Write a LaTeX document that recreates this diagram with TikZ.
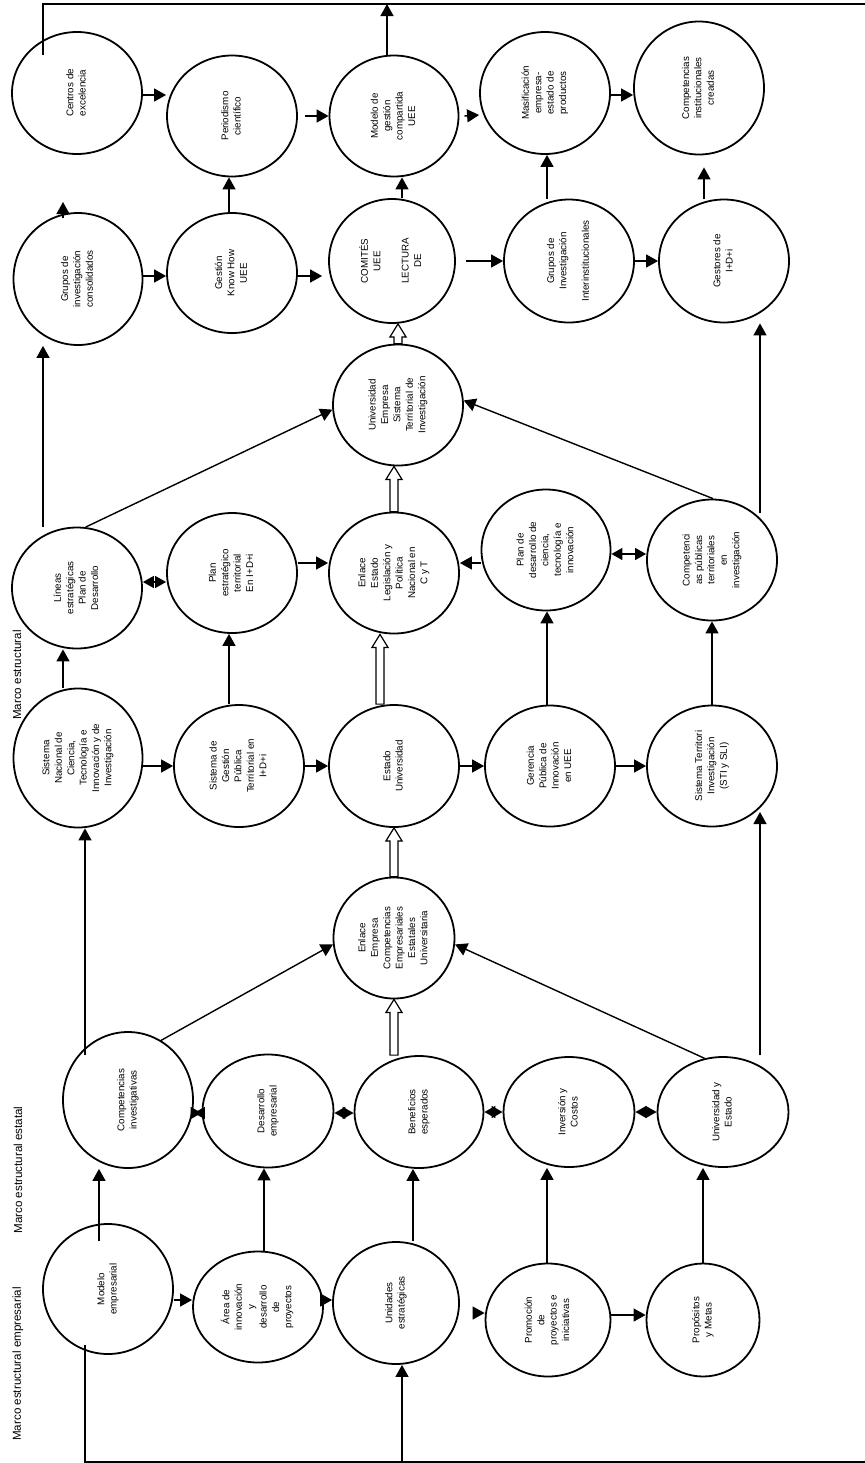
\documentclass[tikz,border=0pt]{standalone}
\usepackage{fontspec}
\setmainfont{Liberation Sans}
\usepackage{graphicx}
\usetikzlibrary{shapes.geometric,arrows.meta,calc}

\newcommand{\vtext}[1]{\rotatebox{90}{\begin{tabular}{@{}c@{}}#1\end{tabular}}}
\newcommand{\hollowup}[2]{%
  \draw[fill=white,line width=0.6pt] ([xshift=-2pt]#1) -- ([xshift=-2pt,yshift=-6.5pt]#2)
    -- ([xshift=-4pt,yshift=-6.5pt]#2) -- (#2) -- ([xshift=4pt,yshift=-6.5pt]#2)
    -- ([xshift=2pt,yshift=-6.5pt]#2) -- ([xshift=2pt]#1) -- cycle;}

\tikzset{
  oval/.style={draw, ellipse, line width=0.9pt, inner sep=0pt,
    minimum width=65pt, minimum height=61pt, font=\fontsize{4.9}{6.2}\selectfont},
  arr/.style={-{Triangle[length=6pt,width=6.5pt]}, line width=0.7pt},
  biarr/.style={{Triangle[length=5.5pt,width=6pt]}-{Triangle[length=5.5pt,width=6pt]}, line width=0.7pt},
  halfarr/.style={-{Triangle[length=5.5pt,width=6pt]}, line width=0.7pt},
  frame/.style={line width=0.7pt},
  marco/.style={rotate=90, font=\fontsize{5.8}{7}\selectfont},
}

\begin{document}
\begin{tikzpicture}[x=0.5pt, y=-0.5pt]
      \useasboundingbox (0,0) rectangle (865,1463);
      %
      \node[marco] (lblemp) at (18,1364) {Marco estructural empresarial};
      \node[marco] (lblest) at (18,1170) {Marco estructural estatal};
      \node[marco] (lblmar) at (17,675) {Marco estructural};
      %
      % bottom row
      \node[oval, minimum height=65pt] (modelo) at (108,1289) {\vtext{Modelo\\empresarial}};
      \node[oval, minimum height=55.5pt] (area) at (258,1307) {\vtext{Área de\\innovación\\y\\desarrollo\\de\\proyectos}};
      \node[oval, minimum width=63pt] (unid) at (396,1303) {\vtext{Unidades\\estratégicas}};
      \node[oval, minimum width=62.5pt, minimum height=56.5pt] (promo) at (548,1320) {\vtext{Promoción\\de\\proyectos e\\iniciativas}};
      \node[oval, minimum width=56.5pt, minimum height=56.5pt] (prop) at (703,1320) {\vtext{Propósitos\\y Metas}};
      %
      % second row
      \node[oval, minimum height=68pt] (compinv) at (128,1100) {\vtext{Competencias\\investigativas}};
      \node[oval, minimum width=65.5pt, minimum height=56.5pt] (desemp) at (268,1111) {\vtext{Desarrollo\\empresarial}};
      \node[oval, minimum width=64.5pt, minimum height=56pt] (benef) at (419,1112) {\vtext{Beneficios\\esperados}};
      \node[oval, minimum width=65.5pt, minimum height=55pt] (inver) at (569,1112) {\vtext{Inversión y\\Costos}};
      \node[oval, minimum width=65.5pt, minimum height=55pt] (uniest) at (723,1112) {\vtext{Universidad y\\Estado}};
      %
      \node[oval, minimum width=60.5pt, minimum height=60.5pt] (enlemp) at (394,938) {\vtext{Enlace\\Empresa\\Competencias\\Empresariales\\Estatales\\Universitaria}};
      %
      % third row
      \node[oval, minimum width=64.5pt, minimum height=69.5pt] (sisnac) at (78,758) {\vtext{Sistema\\Nacional de\\Ciencia,\\Tecnología e\\Innovación y de\\Investigación}};
      \node[oval] (sisges) at (239,766) {\vtext{Sistema de\\Gestión\\Pública\\Territorial en\\I+D+i}};
      \node[oval] (estado) at (394,766) {\vtext{Estado\\Universidad}};
      \node[oval, minimum height=60.5pt] (geren) at (550,766) {\vtext{Gerencia\\Pública de\\Innovación\\en UEE}};
      \node[oval, minimum height=60.5pt] (sister) at (712,766) {\vtext{Sistema Territori\\Investigación\\(STI y SLI)}};
      %
      % fourth row
      \node[oval, minimum height=60.5pt] (lineas) at (77,588) {\vtext{Líneas\\estratégicas\\Plan de\\Desarrollo}};
      \node[oval, minimum height=60pt] (planest) at (232,573) {\vtext{Plan\\estratégico\\territorial\\En I+D+i}};
      \node[oval, minimum height=60.5pt] (enlest) at (394,573) {\vtext{Enlace\\Estado\\Legislación y\\Política\\Nacional en\\C y T}};
      \node[oval, minimum width=64.5pt, minimum height=60.5pt] (plandes) at (546,550) {\vtext{Plan de\\desarrollo de\\ciencia,\\tecnología e\\innovación}};
      \node[oval, minimum height=60.5pt] (comppub) at (712,560) {\vtext{Competenci\\as públicas\\territoriales\\en\\investigación}};
      %
      \node[oval, minimum height=60.5pt] (unemp) at (398,405) {\vtext{Universidad\\Empresa\\Sistema\\Territorial de\\Investigación}};
      %
      % fifth row
      \node[oval, minimum width=64.5pt, minimum height=66pt] (grcons) at (78,279) {\vtext{Grupos de\\investigación\\consolidados}};
      \node[oval, minimum height=60pt] (gknow) at (232,273) {\vtext{Gestión\\Know How\\UEE}};
      \node[oval, minimum width=63pt, minimum height=62pt] (comites) at (392,261) {\vtext{COMITÉS\\UEE\\[8pt]LECTURA\\DE}};
      \node[oval, minimum height=61.5pt] (grinter) at (569,261) {\vtext{Grupos de\\Investigación\\[5pt]Interinstitucionales}};
      \node[oval, minimum height=61.5pt] (gestores) at (724,261) {\vtext{Gestores de\\I+D+i}};
      %
      % top row
      \node[oval] (centros) at (77,93) {\vtext{Centros de\\excelencia}};
      \node[oval, minimum height=60.5pt] (period) at (232,116) {\vtext{Periodismo\\científico}};
      \node[oval, minimum width=64.5pt, minimum height=60.5pt] (modges) at (394,116) {\vtext{Modelo de\\gestión\\compartida\\UEE}};
      \node[oval] (masif) at (545,93) {\vtext{Masificación\\empresa-\\estado de\\productos}};
      \node[oval, minimum height=66.5pt] (compinst) at (699,88) {\vtext{Competencias\\institucionales\\creadas}};
      %
      % outer lines
      \coordinate (topR) at (865,4);
      \coordinate (topM) at (387,4);
      \coordinate (botL) at (85,1462);
      \coordinate (botU) at (402,1462);
      \coordinate (botR) at (865,1462);
      \draw[frame] ([xshift=-17pt,yshift=19pt]centros.center) |- (topR);
      \draw[arr] ([xshift=-3.5pt]modges.north) -- (topM);
      \draw[frame] ([xshift=-11.5pt,yshift=-28pt]modelo.center) -- (botL) -- (botR);
      \draw[arr] (botU) -- ([xshift=3pt]unid.south);
      %
      % bottom row arrows
      \draw[arr] ([yshift=-5.5pt]modelo.east) -- ([yshift=3.5pt]area.west);
      \draw[arr] ([yshift=3.5pt]area.east) -- ([yshift=1.5pt]unid.west);
      \draw[arr] ([xshift=6.5pt,yshift=-5pt]unid.east) -- ([yshift=3.5pt]promo.west);
      \draw[arr] ([yshift=2.5pt]promo.east) -- ([yshift=2.5pt]prop.west);
      \draw[arr] ([xshift=-4.5pt,yshift=-9pt]modelo.north) -- ([xshift=-14.5pt]compinv.south);
      \draw[arr] ([xshift=3pt]area.north) -- ([xshift=-2pt]desemp.south);
      \draw[arr] ([xshift=8.5pt]unid.north) -- ([xshift=-3pt]benef.south);
      \draw[arr] ([xshift=-0.5pt]promo.north) -- ([xshift=-11pt]inver.south);
      \draw[arr] (prop.north) -- ([xshift=-10pt]uniest.south);
      %
      % second row arrows
      \coordinate (cdmid) at ($([yshift=-6.5pt]compinv.east)!0.5!([yshift=-1pt]desemp.west)$);
      \draw[halfarr] (cdmid) -- ([yshift=-6.5pt]compinv.east);
      \draw[halfarr] (cdmid) -- ([yshift=-1pt]desemp.west);
      \draw[biarr] ([yshift=-1pt]desemp.east) -- ([yshift=-0.5pt]benef.west);
      \draw[biarr] (benef.east) -- (inver.west);
      \draw[biarr] (inver.east) -- (uniest.west);
      \draw[arr] ([xshift=-21.5pt,yshift=22.5pt]compinv.center) -- ([xshift=3.5pt]sisnac.south);
      \draw[arr] (compinv.61) -- (enlemp.186);
      \draw[arr] (uniest.109) -- (enlemp.354);
      \draw[arr] ([xshift=18.5pt,yshift=28.5pt]uniest.center) -- ([xshift=24pt,yshift=-23pt]sister.center);
      %
      % hollow arrows
      \coordinate (h1) at (enlemp.south |- benef.north);
      \coordinate (h2) at (unemp.south -| enlest.north);
      \coordinate (h3) at (unemp.north |- comites.south);
      \coordinate (h4s) at ([xshift=-7pt]estado.north);
      \coordinate (h4e) at ([xshift=-7pt]enlest.south);
      \hollowup{h1}{enlemp.south}
      \hollowup{enlemp.north}{estado.south}
      \hollowup{h4s}{h4e}
      \hollowup{enlest.north}{h2}
      \hollowup{unemp.north}{h3}
      %
      % third row arrows
      \draw[arr] (sisnac.east |- sisges.west) -- (sisges.west);
      \draw[arr] (sisges.east) -- (estado.west);
      \draw[arr] (estado.east) -- (geren.west);
      \draw[arr] (geren.east) -- (sister.west);
      \draw[arr] ([xshift=-7.5pt]sisnac.north) -- ([xshift=-7pt]lineas.south);
      \draw[arr] ([xshift=-5pt]sisges.north) -- ([xshift=-1.5pt]planest.south);
      \draw[arr] ([xshift=-1.5pt]geren.north) -- ([xshift=0.5pt]plandes.south);
      \draw[arr] (sister.north) -- (comppub.south);
      %
      % fourth row arrows
      \draw[biarr] ([yshift=3pt]lineas.east) -- ([yshift=-4.5pt]planest.west);
      \draw[arr] ([yshift=5pt]planest.east) -- ([yshift=5pt]enlest.west);
      \draw[arr] ([yshift=-6.5pt]plandes.west) -- ([yshift=5pt]enlest.east);
      \draw[biarr] ([yshift=-2pt]plandes.east) -- ([yshift=3pt]comppub.west);
      \draw[arr] (lineas.82) -- (unemp.184);
      \draw[arr] (comppub.89) -- (unemp.4);
      \draw[arr] ([xshift=-17pt,yshift=30.5pt]lineas.center) -- ([xshift=-17.5pt]grcons.south);
      \draw[arr] ([xshift=24pt,yshift=23.5pt]comppub.center) -- ([xshift=18pt]gestores.south);
      %
      % fifth row arrows
      \draw[arr] ([xshift=-7.5pt,yshift=30.5pt]grcons.center) -- ++(0,-16);
      \draw[arr] ([yshift=1.5pt]grcons.east) -- ([yshift=-1.5pt]gknow.west);
      \draw[arr] ([yshift=-1.5pt]gknow.east) -- ([xshift=-3pt,yshift=-7.5pt]comites.west);
      \draw[arr] ([xshift=5pt]comites.east) -- (grinter.west);
      \draw[arr] (grinter.east) -- (gestores.west);
      \draw[arr] ([xshift=-1.5pt]gknow.north) -- ([xshift=-1.5pt]period.south);
      \draw[arr] ([xshift=5pt]comites.north) -- ([xshift=4pt]modges.south);
      \draw[arr] ([xshift=-11pt]grinter.north) -- ([xshift=1pt]masif.south);
      \draw[arr] ([xshift=-10pt]gestores.north) -- ([xshift=2.5pt,yshift=-6pt]compinst.south);
      %
      % top row arrows
      \draw[arr] ([yshift=-1pt]centros.east) -- ([yshift=10.5pt]period.west);
      \draw[arr] ([xshift=3.5pt]period.east) -- (modges.west);
      \draw[arr] ([xshift=2.5pt]modges.east) -- ([yshift=-11pt]masif.west);
      \draw[arr] ([yshift=-1pt]masif.east) -- ([yshift=-3.5pt]compinst.west);
      %
    \end{tikzpicture}
\end{document}
